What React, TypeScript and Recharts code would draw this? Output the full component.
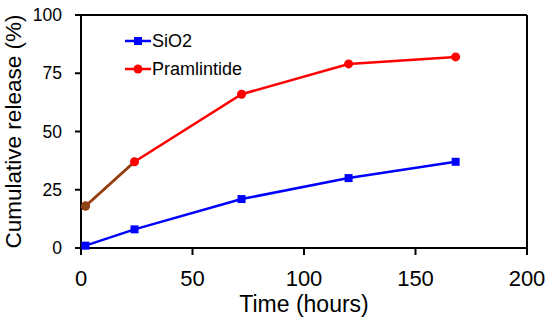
import {
	LineChart,
	Line,
	XAxis,
	YAxis,
	ReferenceLine,
} from 'recharts'

const hours = [2, 24, 72, 120, 168]
const sio2 = [1, 8, 21, 30, 37]
const pramlintide = [18, 37, 66, 79, 82]
const xTicks = [0, 50, 100, 150, 200]
const yTicks = [0, 25, 50, 75, 100]

const data = hours.map((h, i) => ({
	h,
	sio2: sio2[i],
	pram: pramlintide[i],
	// first segment of the red curve appears brownish in the original
	pramStart: i < 2 ? pramlintide[i] : null,
}))

const font = 'Arial, "Liberation Sans", sans-serif'

function SquareDot(props: any) {
	const { cx, cy } = props
	if (cx == null || cy == null) return null
	return <rect x={cx - 4} y={cy - 4} width={8} height={8} fill="#0000ff" />
}

function LegendBox() {
	const items = [
		{ name: 'SiO2', color: '#0000ff', square: true },
		{ name: 'Pramlintide', color: '#ff0000', square: false },
	]
	return (
		<div
			style={{
				position: 'absolute',
				left: 125,
				top: 27,
				fontFamily: font,
				fontSize: 18,
				color: '#000',
			}}
		>
			{items.map((it) => (
				<div
					key={it.name}
					style={{ display: 'flex', alignItems: 'center', height: 28 }}
				>
					<svg width={26} height={12} style={{ marginRight: 1 }}>
						<line x1={0} y1={6} x2={26} y2={6} stroke={it.color} strokeWidth={2.5} />
						{it.square ? (
							<rect x={9} y={2} width={8} height={8} fill={it.color} />
						) : (
							<circle cx={13} cy={6} r={4.5} fill={it.color} />
						)}
					</svg>
					<span>{it.name}</span>
				</div>
			))}
		</div>
	)
}

export default function App() {
	return (
		<div style={{ position: 'relative', width: 550, height: 324, background: '#fff' }}>
			<style>{'body{margin:0}'}</style>
			<LineChart
				width={550}
				height={324}
				data={data}
				margin={{ top: 15, right: 23, left: 0, bottom: 0 }}
			>
				<XAxis
					dataKey="h"
					type="number"
					domain={[0, 200]}
					ticks={xTicks}
					axisLine={{ stroke: '#000', strokeWidth: 2 }}
					tickLine={{ stroke: '#000', strokeWidth: 2 }}
					tickSize={7}
					tick={{ fill: '#000', fontSize: 22, fontFamily: font }}
					tickMargin={15}
					height={76}
					label={{
						value: 'Time (hours)',
						position: 'insideBottom',
						offset: 12,
						fill: '#000',
						fontSize: 23,
						fontFamily: font,
					}}
				/>
				<YAxis
					type="number"
					domain={[0, 100]}
					ticks={yTicks}
					axisLine={{ stroke: '#000', strokeWidth: 2 }}
					tickLine={{ stroke: '#000', strokeWidth: 2 }}
					tickSize={6}
					tick={{ fill: '#000', fontSize: 17.5, fontFamily: font }}
					tickMargin={13}
					width={81}
					label={{
						value: 'Cumulative release (%)',
						angle: -90,
						position: 'insideLeft',
						offset: 13,
						style: { textAnchor: 'middle' },
						fill: '#000',
						fontSize: 22.5,
						fontFamily: font,
					}}
				/>
				<ReferenceLine y={100} stroke="#000" strokeWidth={2} />
				<ReferenceLine x={200} stroke="#000" strokeWidth={2} />
				<Line
					dataKey="sio2"
					name="SiO2"
					stroke="#0000ff"
					strokeWidth={2.5}
					dot={<SquareDot />}
					isAnimationActive={false}
				/>
				<Line
					dataKey="pram"
					name="Pramlintide"
					stroke="#ff0000"
					strokeWidth={2.5}
					dot={{ r: 4.5, fill: '#ff0000', stroke: 'none' }}
					isAnimationActive={false}
				/>
				<Line
					dataKey="pramStart"
					legendType="none"
					stroke="#8b4513"
					strokeWidth={2.5}
					dot={(p: any) =>
						p.index === 0 ? (
							<circle key="d0" cx={p.cx} cy={p.cy} r={4.5} fill="#8b4513" />
						) : (
							<g key={`d${p.index}`} />
						)
					}
					connectNulls={false}
					isAnimationActive={false}
				/>
			</LineChart>
			<LegendBox />
		</div>
	)
}
